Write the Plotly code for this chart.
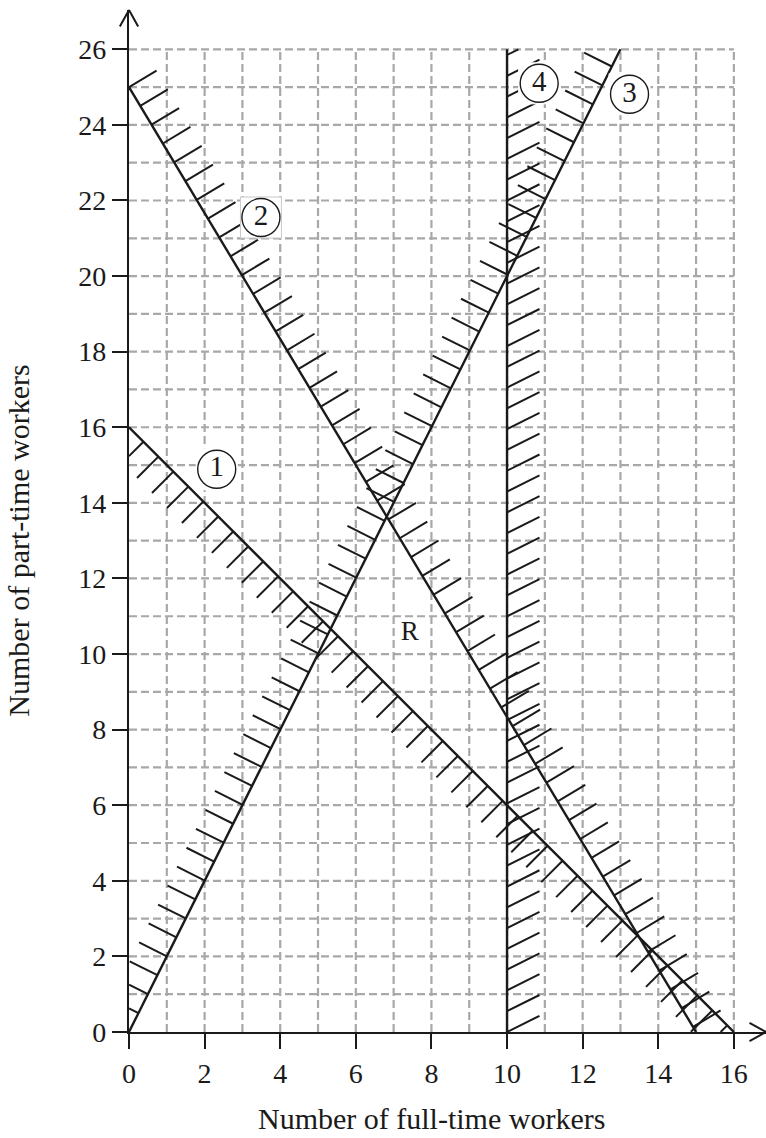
import plotly.graph_objects as go
import numpy as np

# axis ticks and grid positions
x_ticks = [0, 2, 4, 6, 8, 10, 12, 14, 16]
y_ticks = [0, 2, 4, 6, 8, 10, 12, 14, 16, 18, 20, 22, 24, 26]
grid_x = list(range(1, 17))
grid_y = list(range(1, 27))
x_max = 16
y_max = 26

# constraint lines (end points)
line1_x = [0, 16]
line1_y = [16, 0]
line2_x = [0, 15]
line2_y = [25, 0]
line3_x = [0, 13]
line3_y = [0, 26]
line4_x = [10, 10]
line4_y = [0, 26]

# circled labels and region label
label_text = ["1", "2", "3", "4"]
label_x = [2.32, 3.49, 13.24, 10.85]
label_y = [14.89, 21.55, 24.81, 25.1]
region_text = ["R"]
region_x = [7.43]
region_y = [10.56]

SERIF = "Liberation Serif"
BLACK = "#1a1a1a"


def clip(px, py, qx, qy):
    # clip a short segment to the drawing box [0,x_max] x [0,y_max]
    t0, t1 = 0.0, 1.0
    dx, dy = qx - px, qy - py
    for p, q in ((-dx, px), (dx, x_max - px), (-dy, py), (dy, y_max - py)):
        if p == 0:
            if q < 0:
                return None
            continue
        r = q / p
        if p < 0:
            t0 = max(t0, r)
        else:
            t1 = min(t1, r)
    if t0 >= t1:
        return None
    return (px + t0 * dx, py + t0 * dy, px + t1 * dx, py + t1 * dy)


def hatch(xs, ys, side, length, step, start):
    x0, x1 = xs
    y0, y1 = ys
    L = np.hypot(x1 - x0, y1 - y0)
    ux, uy = (x1 - x0) / L, (y1 - y0) / L
    hx, hy = side
    n = np.hypot(hx, hy)
    hx, hy = hx / n, hy / n
    out_x, out_y = [], []
    t = start
    while t <= L + 1e-9:
        bx, by = x0 + ux * t, y0 + uy * t
        seg = clip(bx, by, bx + hx * length, by + hy * length)
        if seg:
            out_x += [seg[0], seg[2], None]
            out_y += [seg[1], seg[3], None]
        t += step
    return out_x, out_y


fig = go.Figure()

# dashed grid
gx, gy = [], []
for v in grid_x:
    gx += [v, v, None]
    gy += [0, y_max, None]
for v in grid_y:
    gx += [0, x_max, None]
    gy += [v, v, None]
fig.add_trace(go.Scatter(x=gx, y=gy, mode="lines", hoverinfo="skip",
                         line=dict(color="#a8a8a8", width=2.2, dash="8px,4px")))

# hatching
hatches = [
    hatch(line1_x, line1_y, (-1, -1), 0.8, 0.56, 0.54),
    hatch(line2_x, line2_y, (5, 3), 0.85, 0.58, 0.0),
    hatch(line3_x, line3_y, (-2, 1), 0.82, 0.56, 0.56),
    hatch(line4_x, line4_y, (2, 1), 0.96, 0.55, 0.0),
]
for hx, hy in hatches:
    fig.add_trace(go.Scatter(x=hx, y=hy, mode="lines", hoverinfo="skip",
                             line=dict(color=BLACK, width=2)))

# constraint lines
for lx, ly in [(line1_x, line1_y), (line2_x, line2_y), (line3_x, line3_y), (line4_x, line4_y)]:
    fig.add_trace(go.Scatter(x=lx, y=ly, mode="lines", line=dict(color=BLACK, width=2.4)))

# white boxes behind circled labels (label 2 has a faint frame)
fig.add_trace(go.Scatter(x=label_x, y=label_y, mode="markers", hoverinfo="skip",
                         marker=dict(symbol="square", size=41, color="white",
                                     line=dict(color=["white", "#c8c8c8", "white", "white"], width=1))))
fig.add_trace(go.Scatter(x=label_x, y=label_y, mode="markers+text", text=label_text,
                         textposition="middle center",
                         textfont=dict(family=SERIF, size=29, color=BLACK),
                         marker=dict(symbol="circle", size=38, color="white",
                                     line=dict(color=BLACK, width=1.4))))
fig.add_trace(go.Scatter(x=region_x, y=region_y, mode="text", text=region_text,
                         textfont=dict(family=SERIF, size=27, color=BLACK)))

annotations = []
# arrow heads at the axis ends
for s in (-1, 1):
    annotations.append(dict(x=16.85, y=0, xref="x", yref="y", text="", showarrow=True,
                            ax=-18, ay=10 * s, arrowhead=0, arrowwidth=2, arrowcolor=BLACK, standoff=0))
    annotations.append(dict(x=0, y=27.04, xref="x", yref="y", text="", showarrow=True,
                            ax=10 * s, ay=18, arrowhead=0, arrowwidth=2, arrowcolor=BLACK, standoff=0))
# axis titles
annotations.append(dict(x=8, y=0, xref="x", yref="y", yshift=-86, showarrow=False,
                        text="Number of full-time workers",
                        font=dict(family=SERIF, size=30, color=BLACK)))
annotations.append(dict(x=0, y=13, xref="x", yref="y", xshift=-110, showarrow=False,
                        textangle=-90, text="Number of part-time workers",
                        font=dict(family=SERIF, size=30, color=BLACK)))

axis_style = dict(showgrid=False, zeroline=False, showline=True, linecolor=BLACK, linewidth=2.4,
                  ticks="outside", ticklen=15, tickwidth=2.4, tickcolor=BLACK,
                  tickfont=dict(family=SERIF, size=28, color=BLACK), automargin=False)

fig.update_layout(
    width=766, height=1138,
    margin=dict(l=129, r=0, t=10, b=106, autoexpand=False),
    paper_bgcolor="white", plot_bgcolor="white",
    showlegend=False,
    xaxis=dict(range=[0, 16.85], tickvals=x_ticks, **axis_style),
    yaxis=dict(range=[0, 27.04], tickvals=y_ticks, **axis_style),
    annotations=annotations,
)

# drop the default 8px body margin so the figure fills the window exactly
fig.write_html("out.html", config={"displayModeBar": False},
               post_script="document.body.style.margin='0';")
